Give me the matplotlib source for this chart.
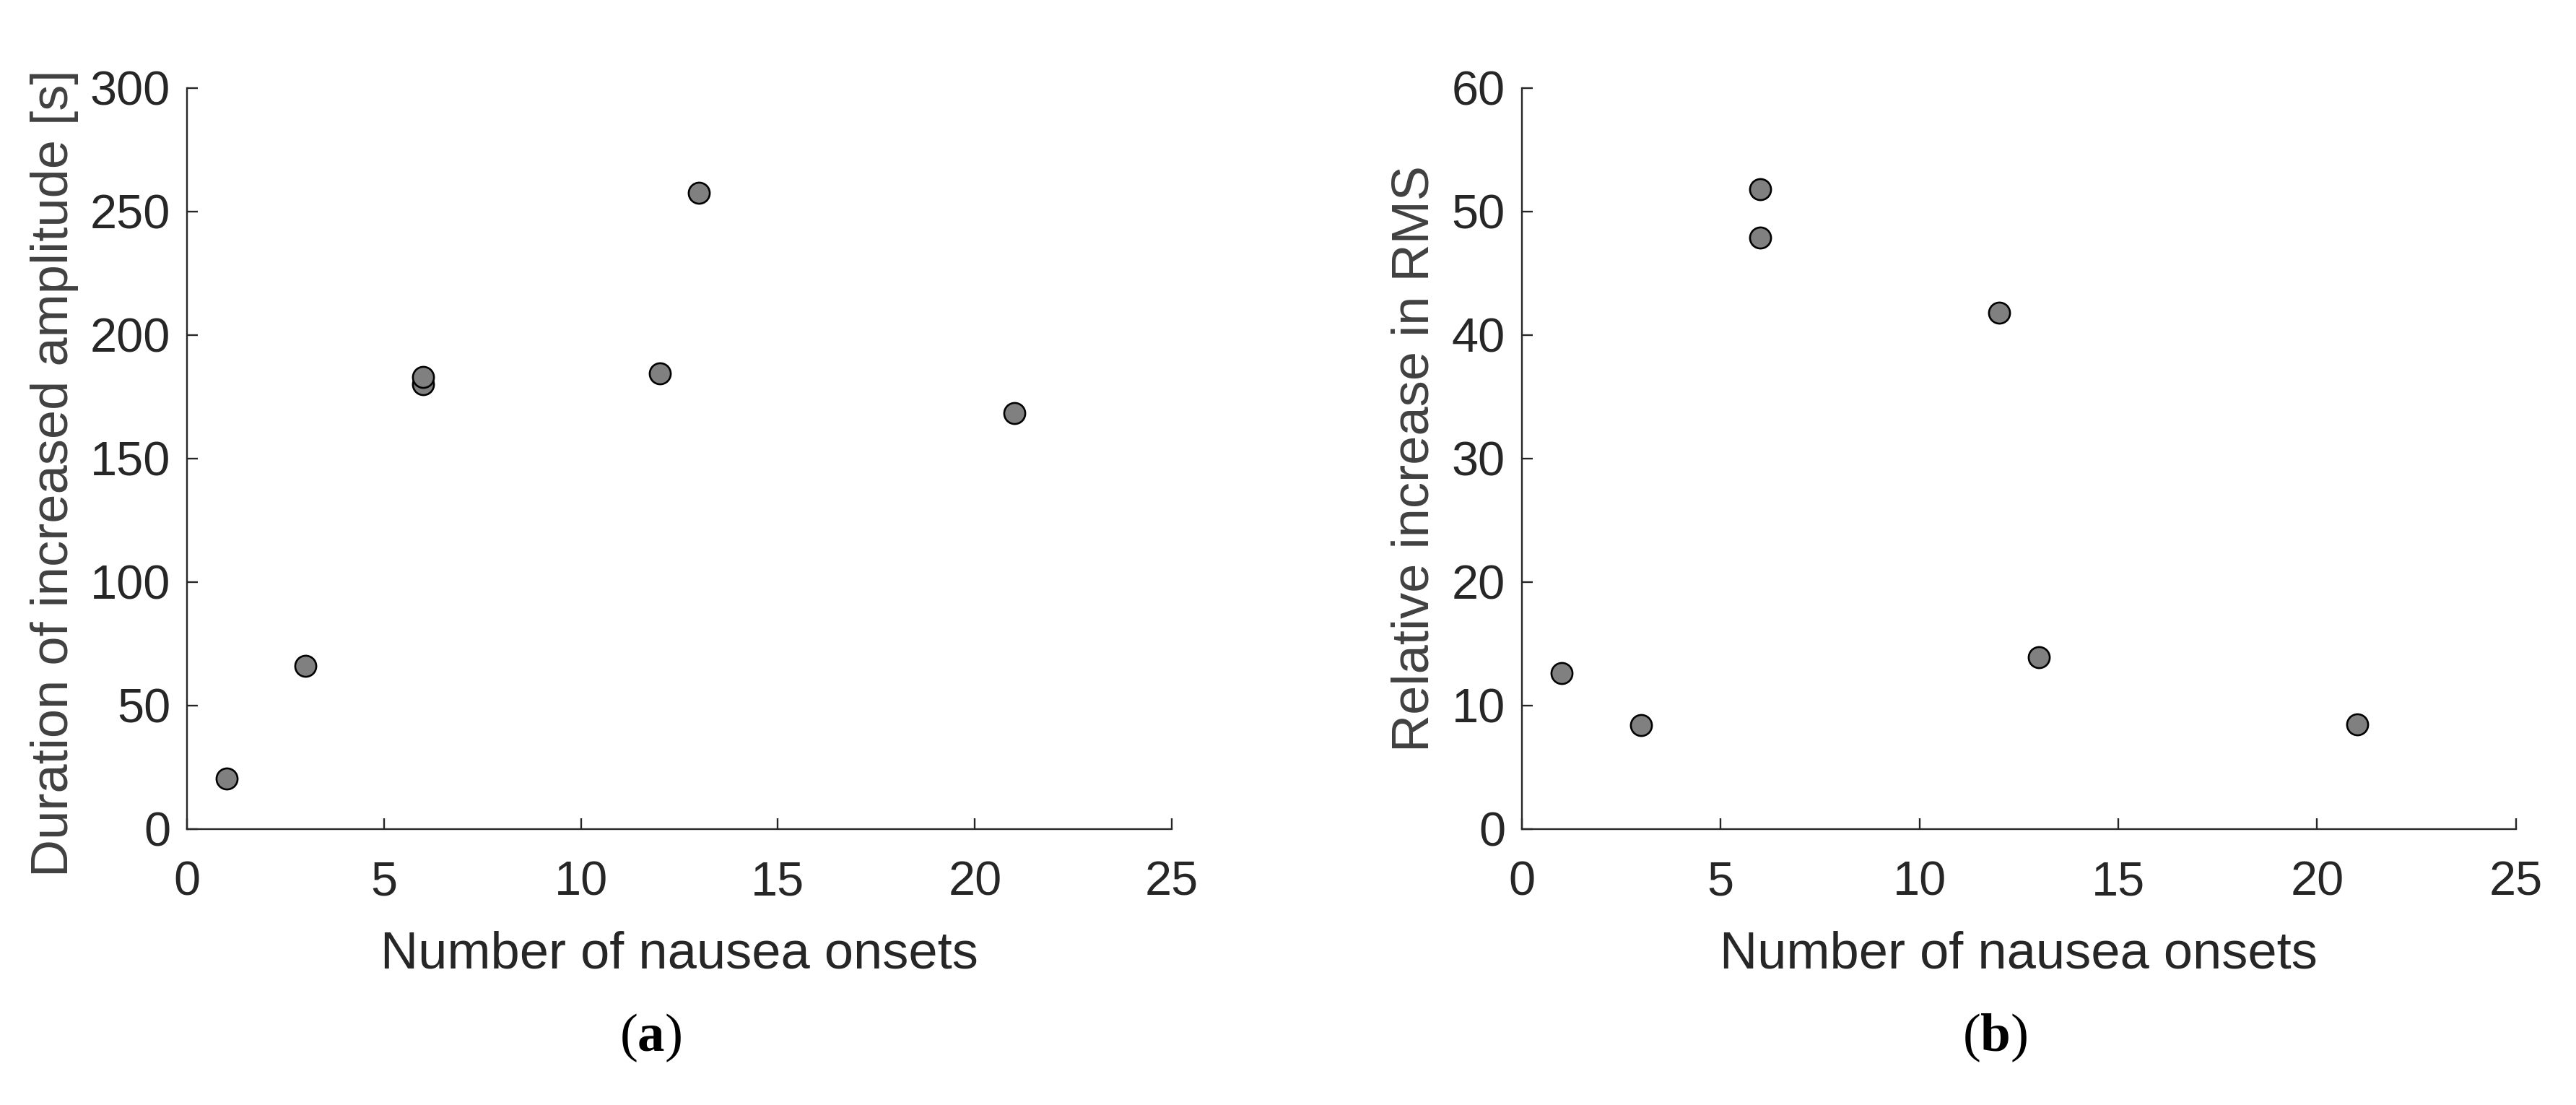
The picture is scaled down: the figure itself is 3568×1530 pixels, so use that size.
import matplotlib
matplotlib.use('Agg')
from matplotlib import pyplot as plt

# number of nausea onsets per subject
onsets = [1, 3, 6, 6, 12, 13, 21]
# (a) duration of increased amplitude [s]
duration = [20.5, 66, 180, 183, 184.5, 257.5, 168.5]
# (b) relative increase in RMS
rms_increase = [12.6, 8.4, 51.8, 47.9, 41.8, 13.9, 8.5]

x_ticks = [0, 5, 10, 15, 20, 25]
dur_ticks = [0, 50, 100, 150, 200, 250, 300]
rms_ticks = [0, 10, 20, 30, 40, 50, 60]

plt.rcParams['font.family'] = ['Liberation Sans', 'DejaVu Sans']
plt.rcParams['mathtext.fontset'] = 'custom'
plt.rcParams['mathtext.rm'] = 'Liberation Serif'
plt.rcParams['mathtext.bf'] = 'Liberation Serif:bold'

AX_COL = '#262626'
TICK_FS = 48
LABEL_FS = 52


def style_axes(ax, yticks, ylabel, ylabel_color, ylabel_y):
    ax.set_xlim(0, 25)
    ax.set_ylim(yticks[0], yticks[-1])
    ax.set_xticks(x_ticks)
    ax.set_yticks(yticks)
    for side in ('top', 'right'):
        ax.spines[side].set_visible(False)
    for side in ('left', 'bottom'):
        ax.spines[side].set_color(AX_COL)
        ax.spines[side].set_linewidth(1.7)
    ax.tick_params(axis='both', direction='in', length=10.8, width=1.7,
                   color=AX_COL, labelcolor=AX_COL, labelsize=TICK_FS)
    ax.tick_params(axis='x', pad=31)
    ax.tick_params(axis='y', pad=16.5)
    ax.set_xlabel('Number of nausea onsets', fontsize=LABEL_FS, color=AX_COL)
    ax.xaxis.set_label_coords(0.5, -0.137)
    ax.set_ylabel(ylabel, fontsize=LABEL_FS, color=ylabel_color)
    return ax


fig = plt.figure(figsize=(35.68, 15.3), dpi=100)
ax1 = fig.add_axes([0.0726, 0.2497, 0.3823, 0.6706])
ax2 = fig.add_axes([0.5908, 0.2497, 0.3859, 0.6706])

ax1.scatter(onsets, duration, s=21 ** 2, c='#808080', edgecolors='black',
            linewidths=1.9, zorder=3, clip_on=False)
ax2.scatter(onsets, rms_increase, s=21 ** 2, c='#808080', edgecolors='black',
            linewidths=1.9, zorder=3, clip_on=False)

style_axes(ax1, dur_ticks, 'Duration of increased amplitude [s]', '#404040', 0.48)
ax1.yaxis.set_label_coords(-0.110, 0.48)
style_axes(ax2, rms_ticks, 'Relative increase in RMS', '#404040', 0.50)
ax2.yaxis.set_label_coords(-0.0835, 0.50)

fig.text(0.2525, 0.0608, r'$\mathrm{(}\mathbf{a}\mathrm{)}$', fontsize=54,
         ha='center', va='center', color='black')
fig.text(0.7744, 0.0608, r'$\mathrm{(}\mathbf{b}\mathrm{)}$', fontsize=54,
         ha='center', va='center', color='black')

fig.savefig('out.png', dpi=100, facecolor='white')
